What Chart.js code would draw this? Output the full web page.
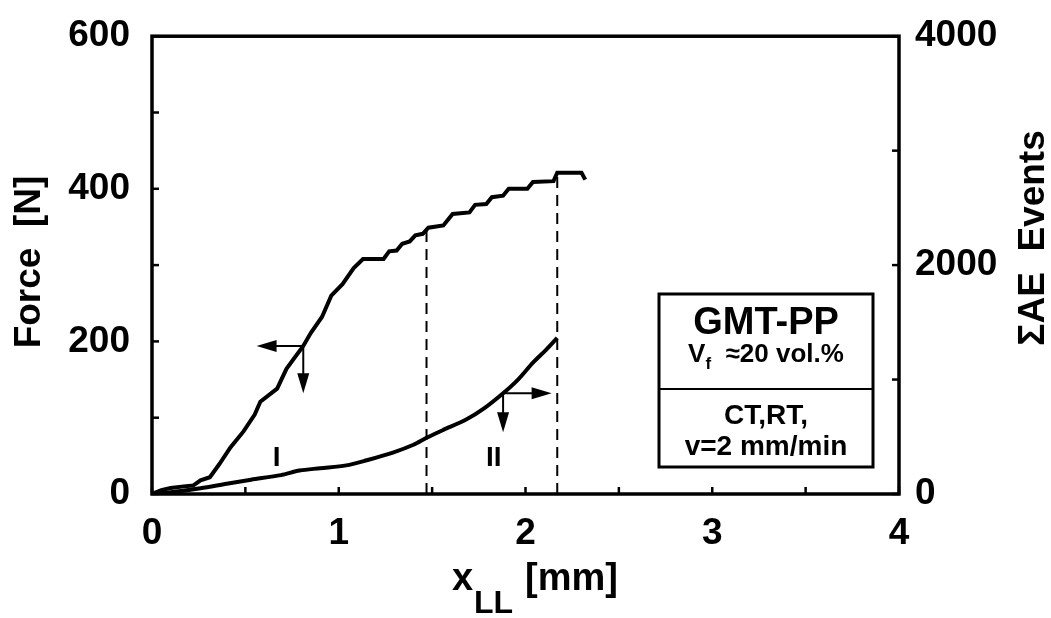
<!DOCTYPE html>
<html>
<head>
<meta charset="utf-8">
<script src="https://cdn.jsdelivr.net/npm/chart.js@4.4.0/dist/chart.umd.min.js"></script>
<style>
  html, body { margin: 0; padding: 0; background: #fff; }
  canvas { display: block; }
</style>
</head>
<body>
<canvas id="grafik" width="1051" height="618"></canvas>
<script>
// Force curve (left axis, N) vs load-line displacement x_LL (mm)
const forceX = [0, 0.05, 0.10, 0.17, 0.22, 0.26, 0.31, 0.36, 0.42, 0.49, 0.55, 0.58, 0.67, 0.72, 0.81, 0.85, 0.91, 0.96, 1.02, 1.08, 1.13,
                1.24, 1.27, 1.31, 1.34, 1.38, 1.41, 1.45, 1.48, 1.56, 1.61, 1.70, 1.73, 1.79, 1.82, 1.88, 1.91, 2.01, 2.04, 2.15, 2.17, 2.30, 2.32];
const forceY = [0, 5, 8, 10, 11, 18, 22, 39, 61, 82, 104, 121, 138, 164, 194, 211, 232, 260, 275, 296, 308,
                308, 318, 319, 328, 331, 339, 341, 349, 352, 367, 369, 379, 380, 389, 391, 400, 400, 409, 410, 421, 421, 412];

// Cumulative acoustic emission events (right axis)
const aeX = [0, 0.10, 0.26, 0.40, 0.53, 0.69, 0.79, 0.90, 1.04, 1.15, 1.29, 1.40, 1.47, 1.56, 1.68, 1.78, 1.88, 1.96, 2.04, 2.11, 2.17];
const aeY = [0, 15, 50, 90, 125, 165, 205, 225, 250, 295, 362, 430, 491, 560, 648, 750, 880, 1000, 1148, 1260, 1365];

// dashed markers separating stages I and II
const markX = [1.47, 2.17];
const markForce = [349, 421];

// tick values
const xTicks = [0, 0.5, 1, 1.5, 2, 2.5, 3, 3.5, 4];
const forceTicks = [0, 100, 200, 300, 400, 500, 600];
const aeTicks = [0, 1000, 2000, 3000, 4000];

const FONT = "'Liberation Sans', Arial, Helvetica, sans-serif";

function toPoints(xs, ys) {
    return xs.map((x, i) => ({ x: x, y: ys[i] }));
}

function panah(ctx, x1, y1, x2, y2) {
    const ang = Math.atan2(y2 - y1, x2 - x1);
    const len = 20, half = 6;
    ctx.beginPath();
    ctx.moveTo(x1, y1);
    ctx.lineTo(x2 - Math.cos(ang) * len * 0.8, y2 - Math.sin(ang) * len * 0.8);
    ctx.stroke();
    ctx.beginPath();
    ctx.moveTo(x2, y2);
    ctx.lineTo(x2 - Math.cos(ang) * len - Math.sin(ang) * half, y2 - Math.sin(ang) * len + Math.cos(ang) * half);
    ctx.lineTo(x2 - Math.cos(ang) * len + Math.sin(ang) * half, y2 - Math.sin(ang) * len - Math.cos(ang) * half);
    ctx.closePath();
    ctx.fill();
}

const dekorasi = {
    id: 'dekorasi',
    afterDraw(chart) {
        const ctx = chart.ctx;
        const a = chart.chartArea;
        const sx = chart.scales.x, sy = chart.scales.y, sy2 = chart.scales.y2;
        ctx.save();
        ctx.strokeStyle = '#000';
        ctx.fillStyle = '#000';

        // frame
        ctx.lineWidth = 3.5;
        ctx.strokeRect(a.left, a.top, a.right - a.left, a.bottom - a.top);

        // inward ticks
        ctx.lineWidth = 2.5;
        forceTicks.forEach(v => {
            const y = sy.getPixelForValue(v);
            ctx.beginPath(); ctx.moveTo(a.left, y); ctx.lineTo(a.left + 7, y); ctx.stroke();
        });
        aeTicks.forEach(v => {
            const y = sy2.getPixelForValue(v);
            ctx.beginPath(); ctx.moveTo(a.right, y); ctx.lineTo(a.right - 7, y); ctx.stroke();
        });
        xTicks.forEach(v => {
            const x = sx.getPixelForValue(v);
            ctx.beginPath(); ctx.moveTo(x, a.bottom); ctx.lineTo(x, a.bottom - 7); ctx.stroke();
        });

        // arrows pointing to the relevant axis
        ctx.lineWidth = 2;
        const p1x = sx.getPixelForValue(0.81), p1y = sy.getPixelForValue(194);
        panah(ctx, p1x, p1y, sx.getPixelForValue(0.56), p1y);
        panah(ctx, p1x, p1y, p1x, sy.getPixelForValue(132));
        const p2x = sx.getPixelForValue(1.88), p2y = sy2.getPixelForValue(880);
        panah(ctx, p2x, p2y, sx.getPixelForValue(2.14), p2y);
        panah(ctx, p2x, p2y, p2x, sy2.getPixelForValue(540));

        // stage labels
        ctx.font = 'bold 28px ' + FONT;
        ctx.textAlign = 'center';
        ctx.textBaseline = 'middle';
        ctx.fillText('I', sx.getPixelForValue(0.668), sy.getPixelForValue(47));
        ctx.fillText('II', sx.getPixelForValue(1.83), sy.getPixelForValue(47));

        // info box
        ctx.lineWidth = 3;
        ctx.strokeRect(659, 294, 214, 173);
        ctx.lineWidth = 2;
        ctx.beginPath(); ctx.moveTo(659, 389); ctx.lineTo(873, 389); ctx.stroke();
        ctx.font = 'bold 38px ' + FONT;
        ctx.fillText('GMT-PP', 766, 324);
        // V_f ≈20 vol.%
        const fBig = 'bold 26px ' + FONT, fSmall = 'bold 17px ' + FONT;
        ctx.font = fBig;
        const wV = ctx.measureText('V').width;
        const rest = '  \u224820 vol.%';
        const wR = ctx.measureText(rest).width;
        ctx.font = fSmall;
        const wF = ctx.measureText('f').width;
        let x0 = 766 - (wV + wF + wR) / 2;
        ctx.textAlign = 'left';
        ctx.textBaseline = 'alphabetic';
        ctx.font = fBig;
        ctx.fillText('V', x0, 362);
        ctx.font = fSmall;
        ctx.fillText('f', x0 + wV, 369);
        ctx.font = fBig;
        ctx.fillText(rest, x0 + wV + wF, 362);
        ctx.textAlign = 'center';
        ctx.textBaseline = 'middle';
        ctx.font = 'bold 28px ' + FONT;
        ctx.fillText('CT,RT,', 766, 416);
        ctx.fillText('v=2 mm/min', 766, 447);

        // axis titles
        ctx.font = 'bold 37px ' + FONT;
        ctx.save();
        ctx.translate(30, 262);
        ctx.rotate(-Math.PI / 2);
        ctx.fillText('Force  [N]', 0, 0);
        ctx.restore();
        ctx.save();
        ctx.translate(1034, 238);
        ctx.rotate(-Math.PI / 2);
        ctx.fillText('\u03A3AE  Events', 0, 0);
        ctx.restore();

        ctx.textAlign = 'left';
        ctx.textBaseline = 'alphabetic';
        ctx.font = 'bold 38px ' + FONT;
        ctx.fillText('x', 452, 590);
        ctx.font = 'bold 32px ' + FONT;
        ctx.fillText('LL', 474, 613);
        ctx.font = 'bold 38px ' + FONT;
        ctx.fillText('[mm]', 525, 590);

        ctx.restore();
    }
};

const tickFont = { family: FONT, size: 37, weight: 'bold' };
const plainLabel = v => String(v);

new Chart(document.getElementById('grafik').getContext('2d'), {
    type: 'line',
    data: {
        datasets: [
            {
                label: 'Force',
                data: toPoints(forceX, forceY),
                yAxisID: 'y',
                borderColor: '#000',
                borderWidth: 4,
                pointRadius: 0,
                tension: 0
            },
            {
                label: 'AE',
                data: toPoints(aeX, aeY),
                yAxisID: 'y2',
                borderColor: '#000',
                borderWidth: 4,
                pointRadius: 0,
                tension: 0.3
            },
            ...markX.map((mx, i) => ({
                label: 'mark' + i,
                data: [{ x: mx, y: 0 }, { x: mx, y: markForce[i] }],
                yAxisID: 'y',
                borderColor: '#000',
                borderWidth: 2,
                borderDash: [11, 7],
                pointRadius: 0
            }))
        ]
    },
    options: {
        responsive: false,
        animation: false,
        devicePixelRatio: 1,
        layout: { padding: { top: 27, left: 0, right: 0, bottom: 0 } },
        plugins: { legend: { display: false }, tooltip: { enabled: false } },
        scales: {
            x: {
                type: 'linear', min: 0, max: 4,
                grid: { display: false }, border: { display: false },
                ticks: { stepSize: 1, color: '#000', font: tickFont, padding: 10, maxRotation: 0, callback: plainLabel },
                afterFit: s => { s.height = 124; }
            },
            y: {
                position: 'left', min: 0, max: 600,
                grid: { display: false }, border: { display: false },
                ticks: { stepSize: 200, color: '#000', font: tickFont, padding: 14, callback: plainLabel },
                afterFit: s => { s.width = 152; }
            },
            y2: {
                position: 'right', min: 0, max: 4000,
                grid: { display: false }, border: { display: false },
                ticks: { stepSize: 2000, color: '#000', font: tickFont, padding: 8, callback: plainLabel },
                afterFit: s => { s.width = 152; }
            }
        }
    },
    plugins: [dekorasi]
});
</script>
</body>
</html>
